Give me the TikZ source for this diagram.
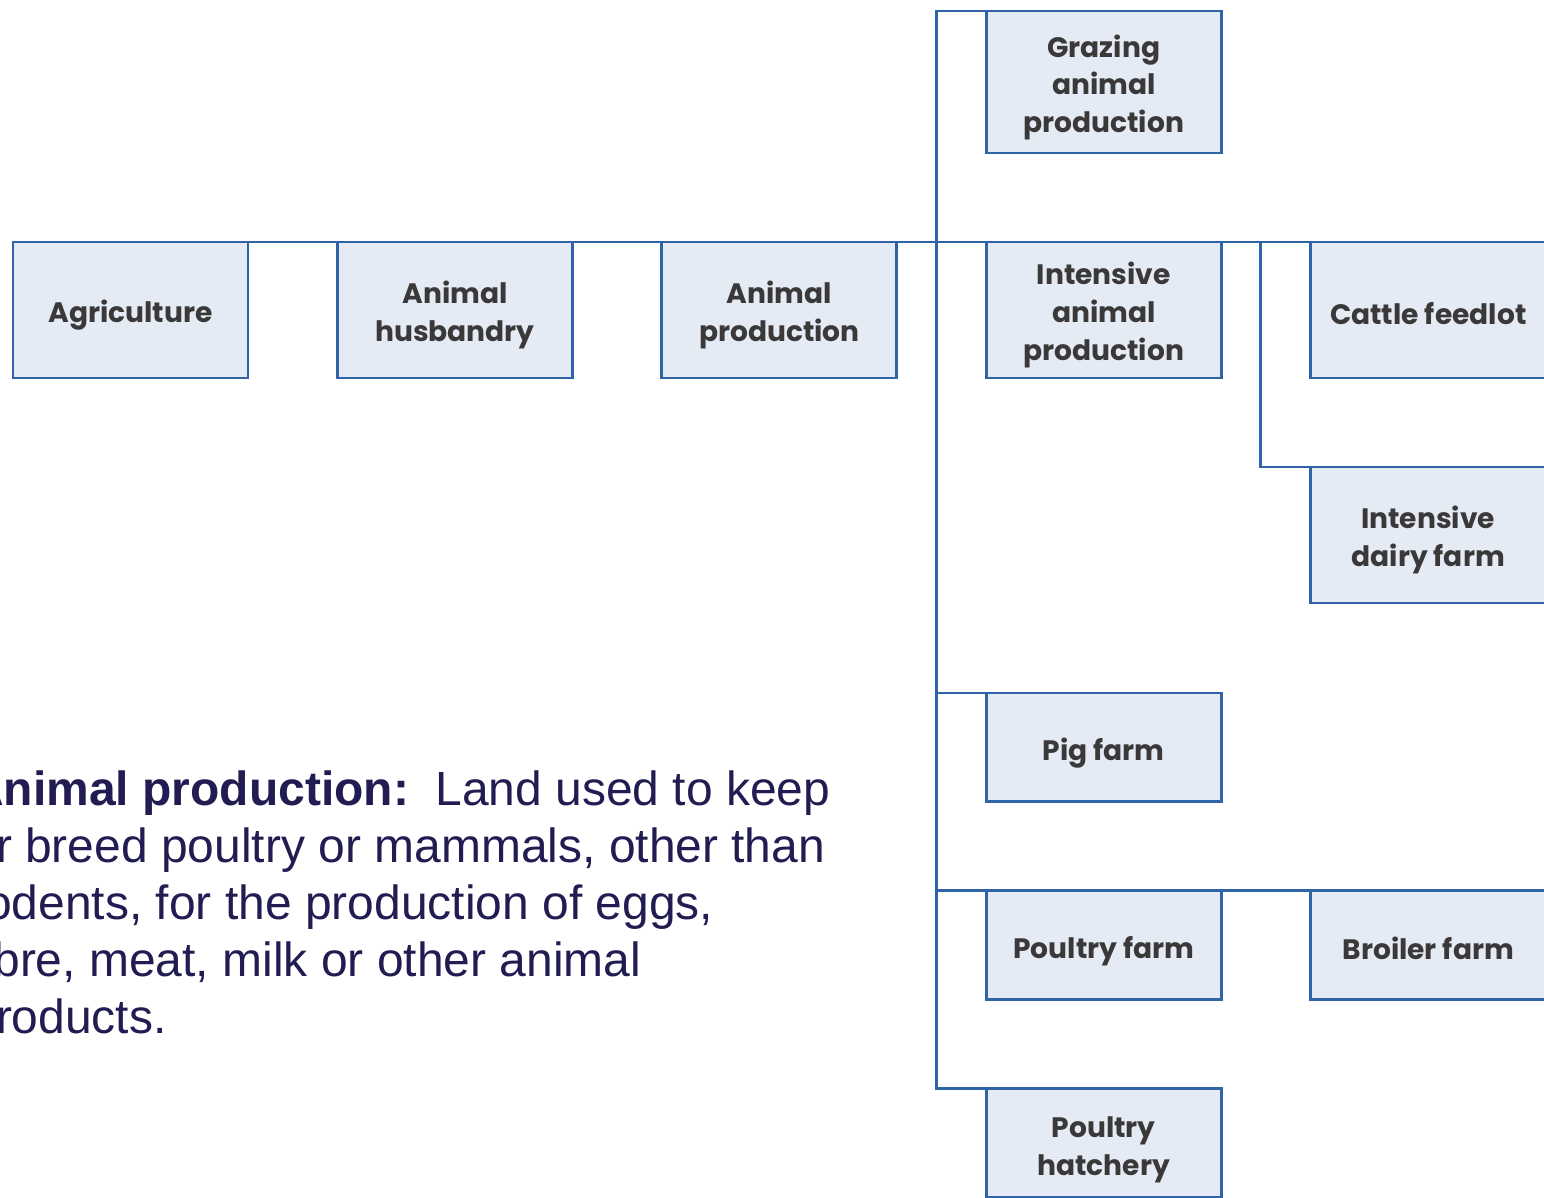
\documentclass[tikz,border=0pt]{standalone}
\usepackage{fontspec}
\newfontfamily\boxfont{Poppins}
\newfontfamily\parafont{Liberation Sans}
\usetikzlibrary{positioning,calc,backgrounds}
\definecolor{boxfill}{HTML}{E5EBF4}
\definecolor{boxline}{HTML}{2F64A8}
\definecolor{boxtext}{HTML}{3A3838}
\definecolor{paratext}{HTML}{211D52}
% label with fixed top and bottom struts, so all boxes centre alike
\newcommand{\boxlabel}[1]{\rule{0pt}{19pt}#1\rule[-3pt]{0pt}{0pt}}

\begin{document}
\begin{tikzpicture}[
  x=0.02cm, y=-0.02cm,
  node distance=1.78cm and 1.79cm,
  landuse/.style={rectangle, draw=boxline, fill=boxfill, line width=1.6pt,
                  minimum width=4.7cm, minimum height=2.72cm, align=center,
                  font=\boxfont\bfseries\fontsize{16}{21.6}\selectfont,
                  text=boxtext, inner sep=0pt, outer sep=0pt},
  shortuse/.style={landuse, minimum height=2.18cm},
  talluse/.style={landuse, minimum height=2.84cm},
  link/.style={draw=boxline, line width=1.6pt},
  defn/.style={anchor=north west, align=left, inner sep=0pt, text=paratext,
               font=\parafont\fontsize{27.3}{32.5}\selectfont}
]
\useasboundingbox (0,0) rectangle (1544,1197);
\clip (0,0) rectangle (1544,1197);

% ---------------- main row ----------------
\node[landuse, anchor=north west] (agri) at (13,242) {\boxlabel{Agriculture}};
\node[landuse, right=of agri] (husb) {\boxlabel{Animal\\husbandry}};
\node[landuse, right=of husb] (prod) {\boxlabel{Animal\\production}};
\node[landuse, right=of prod] (intens) {\boxlabel{Intensive\\animal\\production}};
\node[landuse, right=of intens] (feedlot) {\boxlabel{Cattle feedlot}};

% ---------------- branches ----------------
\node[talluse, above=of intens] (graz) {\boxlabel{Grazing\\animal\\production}};
\node[landuse, below=of feedlot] (dairy) {\boxlabel{Intensive\\dairy farm}};
\node[shortuse, below=6.3cm of intens] (pig) {\boxlabel{Pig farm}};
\node[shortuse, below=of pig] (poultry) {\boxlabel{Poultry farm}};
\node[shortuse, right=of poultry] (broiler) {\boxlabel{Broiler farm}};
\node[shortuse, below=of poultry] (hatch) {\boxlabel{Poultry\\hatchery}};

% ---------------- definition ----------------
\node[defn] (def) at (-31,770)
  {\textbf{Animal production:}\ \ Land used to keep\\
   or breed poultry or mammals, other than\\
   rodents, for the production of eggs,\\
   fibre, meat, milk or other animal\\
   products.};

% ---------------- lines ----------------
\coordinate (trunk) at ($(graz.north west)+(-50,0)$);
\coordinate (fork) at ($(feedlot.north west)+(-50,0)$);
\begin{scope}[on background layer]
  \draw[link] (agri.north west) -- (feedlot.north east);
  \draw[link] (graz.north west) -- (trunk) |- (hatch.north west);
  \draw[link] (trunk |- pig.north) -- (pig.north west);
  \draw[link] (trunk |- poultry.north) -- (broiler.north east);
  \draw[link] (fork) |- (dairy.north west);
\end{scope}

\end{tikzpicture}
\end{document}
